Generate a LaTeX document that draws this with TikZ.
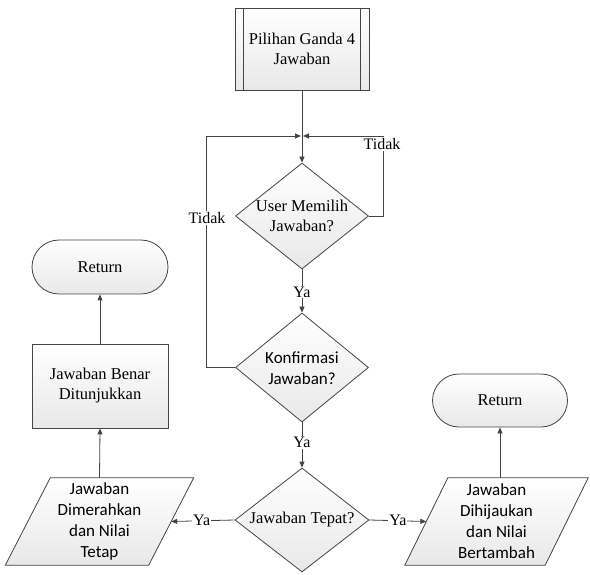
\documentclass[tikz,border=0pt]{standalone}
\usepackage{fontspec}
\setmainfont{Liberation Serif}
\newfontfamily\calibri{Carlito}
\usetikzlibrary{shapes.geometric,shapes.misc,arrows.meta,backgrounds}
\definecolor{linec}{HTML}{444444}
\tikzset{
  base/.style={draw=linec, line width=0.8pt, top color=white, bottom color=black!9, inner sep=0pt, align=center,
    font=\rmfamily\fontsize{16.5}{20}\selectfont},
  procbox/.style={base, rectangle, minimum width=134pt, minimum height=82pt},
  plainbox/.style={base, rectangle, minimum width=136pt, minimum height=84pt},
  termbox/.style={base, rounded rectangle, minimum width=136pt, minimum height=54pt},
  decbox/.style={base, diamond, minimum width=133pt, minimum height=106pt},
  iobox/.style={rectangle, inner sep=0pt, align=center, font=\calibri\fontsize{17}{21}\selectfont},
  conn/.style={draw=linec, line width=0.8pt, -{Triangle[length=6pt,width=5pt]}},
  lnk/.style={draw=linec, line width=0.8pt},
  lbl/.style={fill=white, inner sep=1pt, font=\rmfamily\fontsize{16}{19}\selectfont},
}
\begin{document}
\begin{tikzpicture}[x=1pt,y=-1pt]
\useasboundingbox (0,0) rectangle (590,575);
% predefined process
\node[procbox] (pgd) at (302,49) {Pilihan Ganda 4\\Jawaban};
\draw[lnk] ([xshift=9pt]pgd.north west) -- ([xshift=9pt]pgd.south west);
\draw[lnk] ([xshift=-9pt]pgd.north east) -- ([xshift=-9pt]pgd.south east);
\coordinate (j) at (302,136);
% decisions
\node[decbox] (d1) at (302,216) {};
\node[font=\rmfamily\fontsize{16.5}{20}\selectfont, align=center] (d1t) at (d1.center) {User Memilih\\Jawaban?};
\node[decbox, minimum height=109pt] (d2) at (302,367.5) {};
\node[font=\calibri\fontsize{17}{21}\selectfont, align=center] (d2t) at ([yshift=-1pt]d2.center) {Konfirmasi\\Jawaban?};
\node[decbox, minimum width=134pt, minimum height=104pt] (d3) at (302,520) {};
\node[font=\rmfamily\fontsize{16.5}{20}\selectfont] (d3t) at (d3.center) {Jawaban Tepat?};
% left column
\node[termbox] (r1) at (100,267) {Return};
\node[plainbox] (b1) at (100,386) {Jawaban Benar\\Ditunjukkan};
\node[iobox, minimum width=143pt, minimum height=87pt] (p1) at (99.5,521.5) {Jawaban\\Dimerahkan\\dan Nilai\\Tetap};
% right column
\node[termbox, minimum width=135pt, minimum height=53pt] (r2) at (500,400.5) {Return};
\node[iobox, minimum width=140pt, minimum height=87pt] (p2) at (496.5,521.5) {Jawaban\\Dihijaukan\\dan Nilai\\Bertambah};
\begin{pgfonlayer}{background}
\path[draw=linec, line width=0.8pt, top color=white, bottom color=black!9]
  ([xshift=22.5pt]p1.north west) -- ([xshift=22.5pt]p1.north east) -- ([xshift=-22.5pt]p1.south east) -- ([xshift=-22.5pt]p1.south west) -- cycle;
\path[draw=linec, line width=0.8pt, top color=white, bottom color=black!9]
  ([xshift=21.5pt]p2.north west) -- ([xshift=21.5pt]p2.north east) -- ([xshift=-21.5pt]p2.south east) -- ([xshift=-21.5pt]p2.south west) -- cycle;
\end{pgfonlayer}
% connectors
\draw[lnk] (pgd.south) -- (j);
\draw[conn] (j) -- (d1.north);
\draw[conn] (d2.west) -- (206,367.5) -- (206,136) -- ([xshift=-1pt]j);
\draw[conn] (d1.east) -- (383,216) -- (383,136) -- ([xshift=1pt]j);
\node[lbl] (t1) at (207,218) {Tidak};
\node[lbl] (t2) at (382,144) {Tidak};
\draw[conn] (d1.south) -- (d2.north) node[lbl, pos=0.52] (y1) {Ya};
\draw[conn] (d2.south) -- (d3.north) node[lbl, pos=0.45] (y2) {Ya};
\draw[conn] (d3.west) -- (p1.east) node[lbl, pos=0.52] (y3) {Ya};
\draw[conn] (d3.east) -- (p2.west) node[lbl, pos=0.5] (y4) {Ya};
\draw[conn] (p1.north) -- (b1.south);
\draw[conn] (b1.north) -- (r1.south);
\draw[conn] (p2.north -| r2.south) -- (r2.south);
\end{tikzpicture}
\end{document}
